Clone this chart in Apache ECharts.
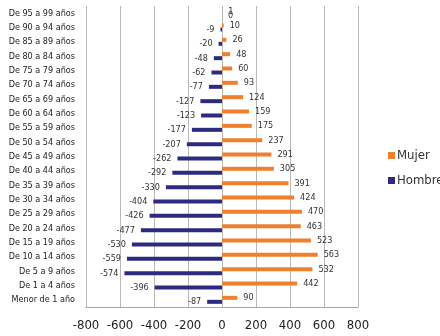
<!DOCTYPE html>
<html>
<head>
<meta charset="utf-8">
<script src="https://cdn.jsdelivr.net/npm/echarts@6/dist/echarts.min.js"></script>
<style>html,body{margin:0;padding:0;background:#fff}#c{width:440px;height:336px}</style>
</head>
<body>
<div id="c"></div>
<script>
const categories = ['De 95 a 99 años','De 90 a 94 años','De 85 a 89 años','De 80 a 84 años','De 75 a 79 años','De 70 a 74 años','De 65 a 69 años','De 60 a 64 años','De 55 a 59 años','De 50 a 54 años','De 45 a 49 años','De 40 a 44 años','De 35 a 39 años','De 30 a 34 años','De 25 a 29 años','De 20 a 24 años','De 15 a 19 años','De 10 a 14 años','De 5 a 9 años','De 1 a 4 años','Menor de 1 año'];
const mujer = [1,10,26,48,60,93,124,159,175,237,291,305,391,424,470,463,523,563,532,442,90];
const hombre = [0,-9,-20,-48,-62,-77,-127,-123,-177,-207,-262,-292,-330,-404,-426,-477,-530,-559,-574,-396,-87];
const xTicks = [-800,-600,-400,-200,0,200,400,600,800];

const FONT = "'Liberation Sans Narrow','DejaVu Sans Condensed',sans-serif";
const chart = echarts.init(document.getElementById('c'));
chart.setOption({
  animation: false,
  textStyle: {fontFamily: FONT},
  legend: {
    data: ['Mujer','Hombre'],
    orient: 'vertical',
    left: 383, top: 144,
    itemWidth: 7, itemHeight: 7, itemGap: 12,
    icon: 'rect',
    textStyle: {fontFamily: FONT, fontSize: 13, color: '#333', padding: [0,0,0,-3]}
  },
  grid: {left: 86, right: 82, top: 6, bottom: 29, containLabel: false},
  xAxis: {
    type: 'value', min: xTicks[0], max: xTicks[xTicks.length-1], interval: 200,
    axisLine: {show: true, lineStyle: {color: '#a6a6a6'}},
    axisTick: {show: false},
    axisLabel: {fontFamily: FONT, fontSize: 13, color: '#222', margin: 12},
    splitLine: {show: true, lineStyle: {color: '#b8b8b8', width: 1}}
  },
  yAxis: {
    type: 'category', data: categories, inverse: true,
    axisLine: {show: false}, axisTick: {show: false},
    axisLabel: {fontFamily: FONT, fontSize: 9, color: '#222', margin: 11}
  },
  series: [
    {
      name: 'Mujer', type: 'bar', data: mujer, barWidth: 4, barGap: '0%',
      itemStyle: {color: '#F07F2E'},
      label: {show: true, position: 'right', distance: 6, fontFamily: FONT, fontSize: 9, color: '#333'}
    },
    {
      name: 'Hombre', type: 'bar',
      data: hombre.map(v => v === 0 ? {value: v, label: {position: 'right'}} : v),
      barWidth: 4, barGap: '0%',
      itemStyle: {color: '#2D2A80'},
      label: {show: true, position: 'left', distance: 6, fontFamily: FONT, fontSize: 9, color: '#333'}
    }
  ]
});
</script>
</body>
</html>
